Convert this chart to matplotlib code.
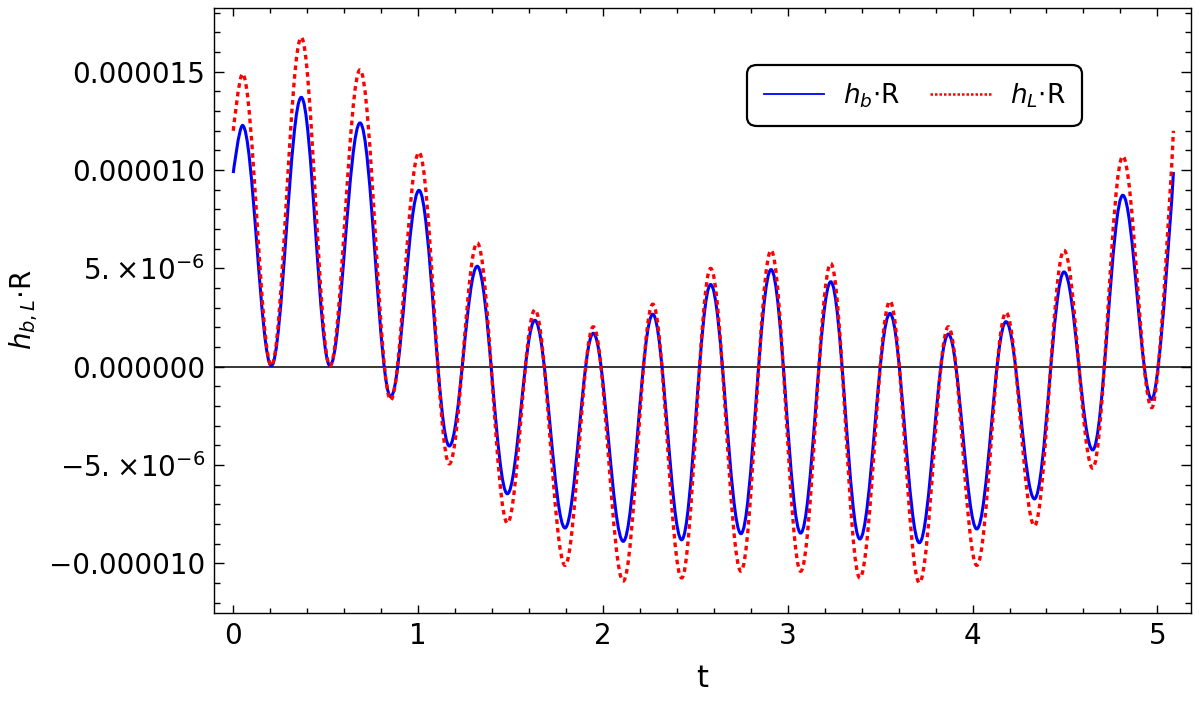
import numpy as np
import matplotlib
matplotlib.use("Agg")
import matplotlib.pyplot as plt
from matplotlib.path import Path
from matplotlib.patches import PathPatch
from matplotlib.lines import Line2D
from matplotlib.ticker import FixedLocator, MultipleLocator

# extrema (and end points), values in units of 1e-6
t_pts = [0.0, 0.05, 0.206, 0.368, 0.523, 0.686, 0.852, 1.005, 1.169, 1.320,
         1.483, 1.632, 1.795, 1.948, 2.110, 2.270, 2.426, 2.583, 2.747, 2.910,
         3.070, 3.233, 3.390, 3.553, 3.712, 3.869, 4.023, 4.181, 4.335, 4.495,
         4.650, 4.813, 4.970, 5.087]
hb = [9.85, 12.27, 0.05, 13.7, 0.05, 12.4, -1.52, 8.97, -4.03, 5.11,
      -6.46, 2.36, -8.2, 1.7, -8.88, 2.67, -8.8, 4.18, -8.49, 4.94,
      -8.46, 4.32, -8.76, 2.71, -8.95, 1.66, -8.25, 2.29, -6.72, 4.82,
      -4.23, 8.72, -1.66, 9.9]
hL = [12.0, 14.9, 0.05, 16.75, 0.05, 15.1, -1.69, 10.9, -4.94, 6.3,
      -7.95, 2.9, -10.1, 2.03, -10.9, 3.18, -10.74, 5.0, -10.4, 5.92,
      -10.4, 5.25, -10.74, 3.33, -10.98, 2.03, -10.1, 2.76, -8.09, 5.92,
      -5.16, 10.7, -2.08, 12.0]

yticks = [-1e-5, -5e-6, 0, 5e-6, 1e-5, 1.5e-5]
ytick_labels = ["\u22120.000010", r"$-5.\!\times\!10^{-6}$", "0.000000",
                r"$5.\!\times\!10^{-6}$", "0.000010", "0.000015"]
xticks = [0, 1, 2, 3, 4, 5]


def smooth_path(t, y, k=0.36):
    # cubic bezier between neighbouring extrema, flat tangent at the extrema
    y = [v * 1e-6 for v in y]
    verts = [(t[0], y[0])]
    codes = [Path.MOVETO]
    n = len(t)
    for i in range(n - 1):
        dt = t[i + 1] - t[i]
        c1 = (t[i] + k * dt, y[i]) if i > 0 else (t[i], y[i])
        c2 = (t[i + 1] - k * dt, y[i + 1]) if i + 1 < n - 1 else (t[i + 1], y[i + 1])
        verts += [c1, c2, (t[i + 1], y[i + 1])]
        codes += [Path.CURVE4] * 3
    return Path(verts, codes)


plt.rcParams['mathtext.fontset'] = 'dejavusans'
fig = plt.figure(figsize=(12, 7.02), dpi=100)
ax = fig.add_axes([0.1783, 0.1272, 0.8142, 0.8621])

blue = "#0000ff"
red = "#ff0000"

ax.axhline(0, color="black", lw=1.1, zorder=1.5)
ax.add_patch(PathPatch(smooth_path(t_pts, hb), fill=False, edgecolor=blue,
                       lw=2.2, zorder=2))
ax.add_patch(PathPatch(smooth_path(t_pts, hL), fill=False, edgecolor=red,
                       lw=2.4, linestyle=(0, (1.4, 1.2)), capstyle="butt",
                       zorder=3))

ax.set_xlim(-0.1044, 5.182)
ax.set_ylim(-12.51e-6, 18.27e-6)

ax.yaxis.set_major_locator(FixedLocator(yticks))
ax.set_yticklabels(ytick_labels)
ax.yaxis.set_minor_locator(MultipleLocator(1e-6))
ax.xaxis.set_major_locator(FixedLocator(xticks))
ax.xaxis.set_minor_locator(MultipleLocator(0.2))

ax.tick_params(which="both", direction="in", top=True, right=True,
               labelsize=20, width=1.0)
ax.tick_params(axis="y", which="major", length=7, pad=6.5)
ax.tick_params(axis="y", which="minor", length=4)
ax.tick_params(axis="x", which="major", length=6, pad=7)
ax.tick_params(axis="x", which="minor", length=3.5)
for s in ax.spines.values():
    s.set_linewidth(1.0)

ax.set_xlabel("t", fontsize=22, labelpad=10)
ax.set_ylabel(r"$h_{b,L}$$\cdot$R", fontsize=20, labelpad=6)

handles = [Line2D([], [], color=blue, lw=1.3),
           Line2D([], [], color=red, lw=1.8, linestyle=(0, (1.0, 0.8)))]
leg = ax.legend(handles, [r"$h_b$$\cdot$R", r"$h_L$$\cdot$R"], ncol=2,
                loc="upper right", bbox_to_anchor=(0.888, 0.905),
                borderaxespad=0, fontsize=19, handlelength=2.3,
                handletextpad=0.7, columnspacing=1.15, borderpad=0.62,
                fancybox=True, framealpha=1)
leg.get_frame().set_edgecolor("black")
leg.get_frame().set_linewidth(1.6)
leg.get_frame().set_boxstyle("round", pad=0.0, rounding_size=0.35)

fig.savefig("out.png", dpi=100)
